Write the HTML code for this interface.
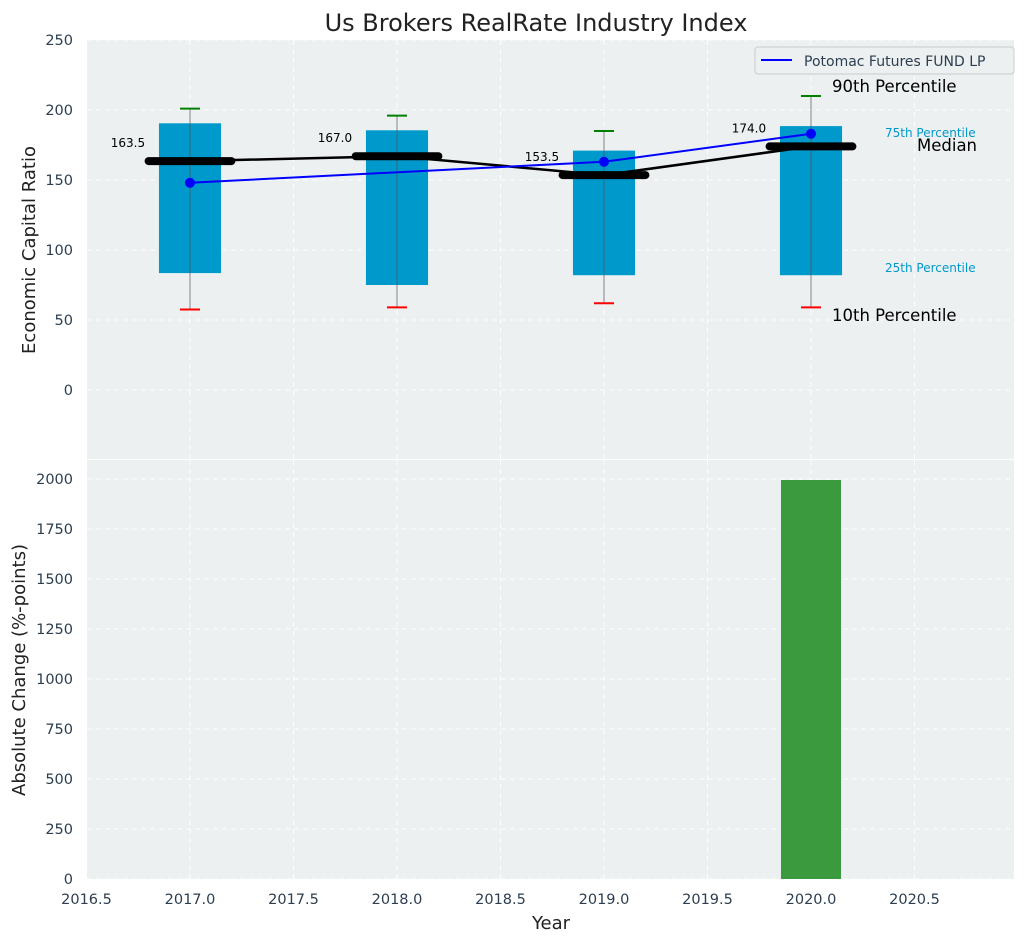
<!DOCTYPE html>
<html><head><meta charset="utf-8"><style>
body{margin:0;background:#fff;font-family:"Liberation Sans","DejaVu Sans",sans-serif}
</style></head><body>
<svg width="1026" height="942" xmlns="http://www.w3.org/2000/svg" font-family="DejaVu Sans, Liberation Sans, sans-serif">
<g id="top"></g>
<g id="bot"></g>
</svg>
<script>
const years=[2017,2018,2019,2020];
const p10=[57.5,59,62,59];
const p25=[83.5,75,82,82];
const p50=[163.5,167.0,153.5,174.0];
const p75=[190.5,185.5,171,188.5];
const p90=[201,196,185,210];
const fundYears=[2017,2019,2020];
const fundVals=[148,163,183];
const changeYears=[2020];
const changeVals=[1995];
const topTicks=[0,50,100,150,200,250];
const botTicks=[0,250,500,750,1000,1250,1500,1750,2000];
const xTicks=[2016.5,2017.0,2017.5,2018.0,2018.5,2019.0,2019.5,2020.0,2020.5];

const NS='http://www.w3.org/2000/svg';
const L=87,R=1014;
const X=v=>190+(v-2017)*207;
const YT=v=>390-v*1.4;
const YB=v=>879-v*0.2;
function el(p,t,a,txt){const e=document.createElementNS(NS,t);for(const k in a)e.setAttribute(k,a[k]);if(txt!==undefined)e.textContent=txt;p.appendChild(e);return e;}
const svg=document.querySelector('svg'),top_=document.getElementById('top'),bot=document.getElementById('bot');

let b=el(top_,'rect',{x:L,y:40,width:R-L,height:419,fill:'#ecf0f1'});

b=el(bot,'rect',{x:L,y:460,width:R-L,height:419,fill:'#ecf0f1'});

const g={stroke:'#fff','stroke-dasharray':'5,4','stroke-width':1,opacity:0.9};
xTicks.forEach(t=>{el(top_,'line',Object.assign({x1:X(t),x2:X(t),y1:40,y2:459},g));el(bot,'line',Object.assign({x1:X(t),x2:X(t),y1:460,y2:879},g));
 const tx=el(svg,'text',{x:X(t),y:904,'text-anchor':'middle','font-size':14.5,fill:'#2c3e50'},t.toFixed(1));
 });
topTicks.forEach(t=>{el(top_,'line',Object.assign({x1:L,x2:R,y1:YT(t),y2:YT(t)},g));
 const tx=el(svg,'text',{x:73,y:YT(t)+5,'text-anchor':'end','font-size':14.5,fill:'#2c3e50'},t);
 });
botTicks.forEach(t=>{el(bot,'line',Object.assign({x1:L,x2:R,y1:YB(t),y2:YB(t)},g));
 const tx=el(svg,'text',{x:73,y:YB(t)+5,'text-anchor':'end','font-size':14.5,fill:'#2c3e50'},t);
 });

years.forEach((y,i)=>{
 const r=el(top_,'rect',{x:X(y-0.15),y:YT(p75[i]),width:0.3*207,height:YT(p25[i])-YT(p75[i]),fill:'#0099cc'});
 
 el(top_,'line',{x1:X(y),x2:X(y),y1:YT(p90[i]),y2:YT(p10[i]),stroke:'#555','stroke-width':1,opacity:0.7});
 el(top_,'line',{x1:X(y)-10,x2:X(y)+10,y1:YT(p90[i]),y2:YT(p90[i]),stroke:'green','stroke-width':2});
 el(top_,'line',{x1:X(y)-10,x2:X(y)+10,y1:YT(p10[i]),y2:YT(p10[i]),stroke:'red','stroke-width':2});
});
const mp=el(top_,'polyline',{points:years.map((y,i)=>X(y)+','+YT(p50[i])).join(' '),fill:'none',stroke:'#000','stroke-width':2.5});

years.forEach((y,i)=>{
 const m=el(top_,'line',{x1:X(y-0.2),x2:X(y+0.2),y1:YT(p50[i]),y2:YT(p50[i]),stroke:'#000','stroke-width':8,'stroke-linecap':'round'});
 
 const t=el(top_,'text',{x:X(y-0.3),y:YT(p50[i]+10),'text-anchor':'middle','font-size':12,fill:'#000'},p50[i].toFixed(1));
 
});
const fl=el(top_,'polyline',{points:fundYears.map((y,i)=>X(y)+','+YT(fundVals[i])).join(' '),fill:'none',stroke:'#0000ff','stroke-width':2});

fundYears.forEach((y,i)=>{const c=el(top_,'circle',{cx:X(y),cy:YT(fundVals[i]),r:5,fill:'#0000ff'});
 });
[['90th Percentile',832,92,16.5,'#000'],['75th Percentile',885,137,12,'#0099cc'],['Median',917,151,16.5,'#000'],['25th Percentile',885,272,12,'#0099cc'],['10th Percentile',832,321,16.5,'#000']].forEach(a=>{
 const t=el(top_,'text',{x:a[1],y:a[2],'font-size':a[3],fill:a[4]},a[0]);
 });
const lg=el(top_,'g',{});
el(lg,'rect',{x:755,y:47,width:259,height:27,rx:3,fill:'#ecf0f1',stroke:'#ccc'});
el(lg,'line',{x1:761,x2:792,y1:60,y2:60,stroke:'#0000ff','stroke-width':2});
el(lg,'text',{x:804,y:66,'font-size':14,fill:'#2c3e50'},'Potomac Futures FUND LP');
changeYears.forEach((y,i)=>{const r=el(bot,'rect',{x:X(y-0.145),y:YB(changeVals[i]),width:0.29*207,height:YB(0)-YB(changeVals[i]),fill:'#3a9a3d'});
 });
let t=el(svg,'text',{x:536,y:31,'text-anchor':'middle','font-size':24,fill:'#222'},'Us Brokers RealRate Industry Index');

t=el(svg,'text',{x:551,y:929,'text-anchor':'middle','font-size':18,fill:'#222'},'Year');

t=el(svg,'text',{x:35,y:250,'text-anchor':'middle','font-size':18,fill:'#222',transform:'rotate(-90 35 250)'},'Economic Capital Ratio');

t=el(svg,'text',{x:25,y:670,'text-anchor':'middle','font-size':18,fill:'#222',transform:'rotate(-90 25 670)'},'Absolute Change (%-points)');

</script>
</body></html>
